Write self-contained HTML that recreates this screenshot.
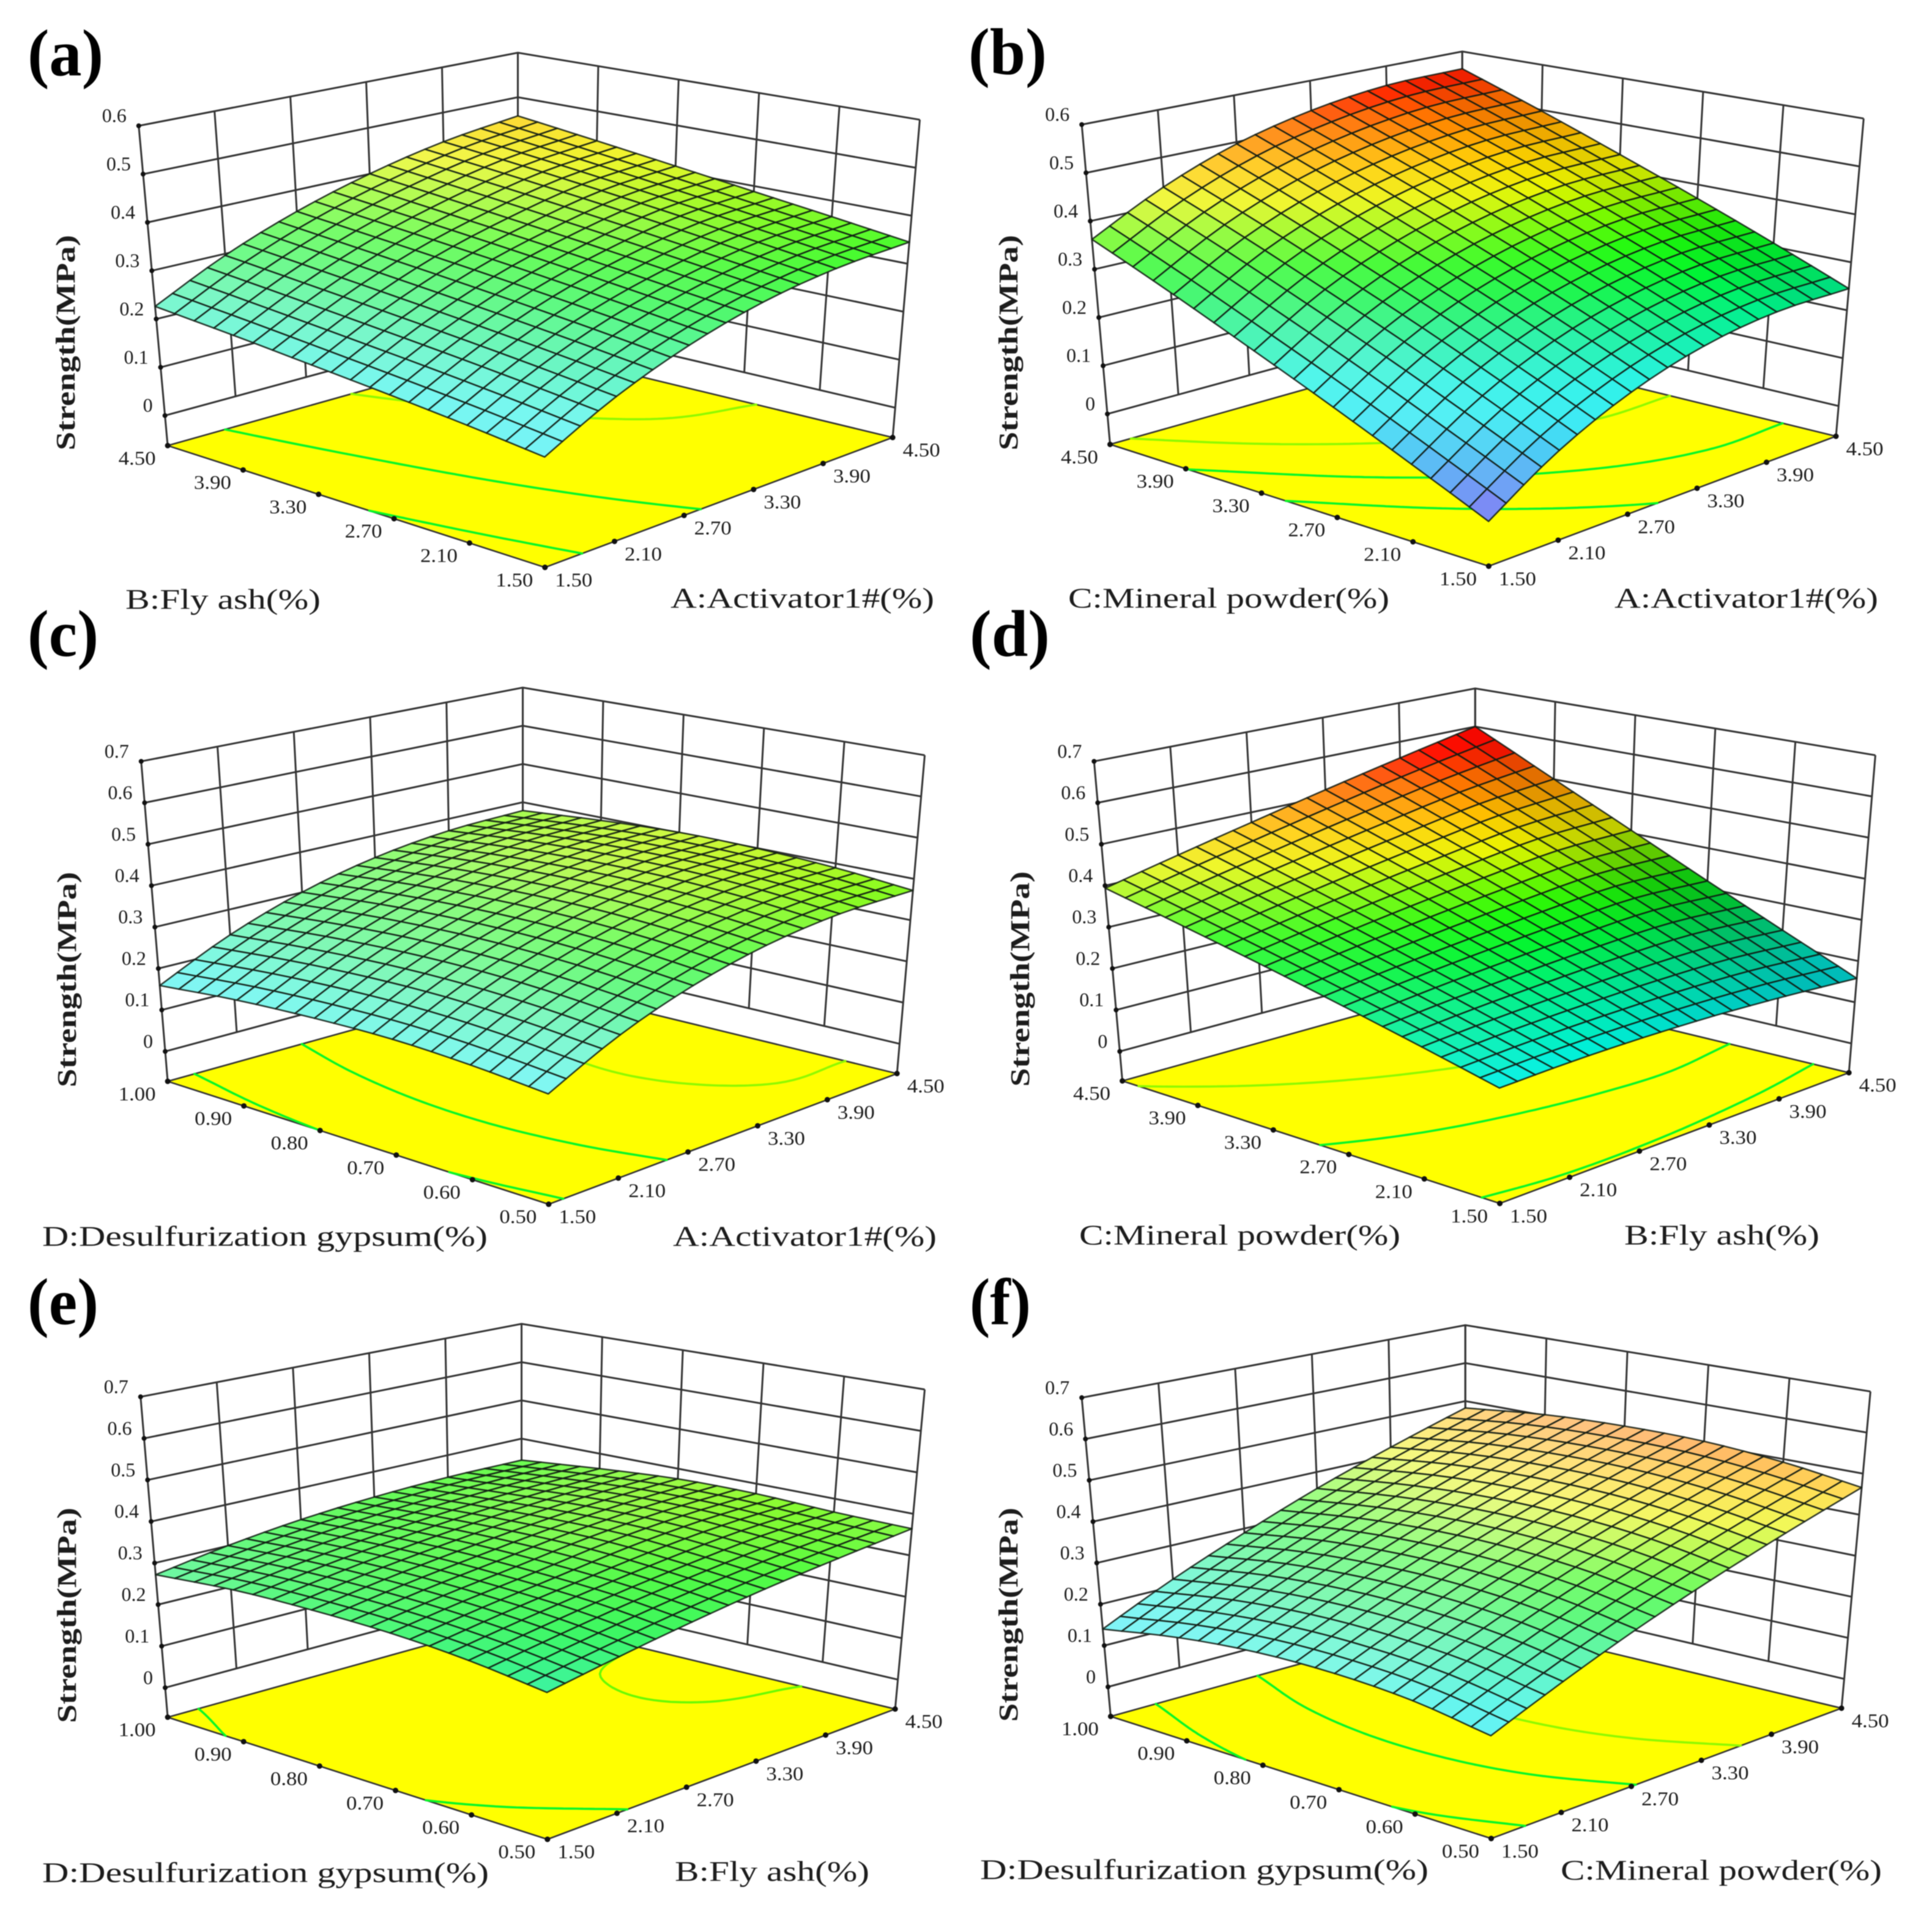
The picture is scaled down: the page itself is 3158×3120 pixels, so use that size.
<!DOCTYPE html>
<html lang="en">
<head>
<meta charset="utf-8">
<title>Response surfaces of strength vs. activator, fly ash, mineral powder and gypsum</title>
<style>
html,body{margin:0;padding:0;background:#fff;}
svg{display:block;filter:blur(0.7px);}
text{font-family:"Liberation Serif",serif;fill:#1c1c1c;}
.letter{font-size:108px;font-weight:bold;fill:#000;}
.ytitle{font-size:44px;font-weight:bold;text-anchor:middle;}
.xtitle{font-size:47px;}
</style>
</head>
<body>
<svg id="figure" xmlns="http://www.w3.org/2000/svg" width="3158" height="3120" viewBox="0 0 3158 3120">
<rect x="0" y="0" width="3158" height="3120" fill="#ffffff"/>

<g>
<g id="plot-a"></g>
<text class="letter" x="45" y="123" textLength="124" lengthAdjust="spacingAndGlyphs">(a)</text>
<text class="ytitle" transform="translate(122,560) rotate(-90)" textLength="352" lengthAdjust="spacingAndGlyphs">Strength(MPa)</text>
<text class="xtitle" x="205" y="995" textLength="319" lengthAdjust="spacingAndGlyphs">B:Fly ash(%)</text>
<text class="xtitle" x="1096" y="993" textLength="431" lengthAdjust="spacingAndGlyphs">A:Activator1#(%)</text>
</g>

<g>
<g id="plot-b"></g>
<text class="letter" x="1583" y="121" textLength="128" lengthAdjust="spacingAndGlyphs">(b)</text>
<text class="ytitle" transform="translate(1663,560) rotate(-90)" textLength="352" lengthAdjust="spacingAndGlyphs">Strength(MPa)</text>
<text class="xtitle" x="1746" y="993" textLength="525" lengthAdjust="spacingAndGlyphs">C:Mineral powder(%)</text>
<text class="xtitle" x="2639" y="993" textLength="431" lengthAdjust="spacingAndGlyphs">A:Activator1#(%)</text>
</g>

<g>
<g id="plot-c"></g>
<text class="letter" x="45" y="1072" textLength="116" lengthAdjust="spacingAndGlyphs">(c)</text>
<text class="ytitle" transform="translate(124,1601) rotate(-90)" textLength="352" lengthAdjust="spacingAndGlyphs">Strength(MPa)</text>
<text class="xtitle" x="69" y="2036" textLength="728" lengthAdjust="spacingAndGlyphs">D:Desulfurization gypsum(%)</text>
<text class="xtitle" x="1100" y="2036" textLength="431" lengthAdjust="spacingAndGlyphs">A:Activator1#(%)</text>
</g>

<g>
<g id="plot-d"></g>
<text class="letter" x="1585" y="1072" textLength="131" lengthAdjust="spacingAndGlyphs">(d)</text>
<text class="ytitle" transform="translate(1682,1600) rotate(-90)" textLength="352" lengthAdjust="spacingAndGlyphs">Strength(MPa)</text>
<text class="xtitle" x="1764" y="2034" textLength="525" lengthAdjust="spacingAndGlyphs">C:Mineral powder(%)</text>
<text class="xtitle" x="2655" y="2034" textLength="319" lengthAdjust="spacingAndGlyphs">B:Fly ash(%)</text>
</g>

<g>
<g id="plot-e"></g>
<text class="letter" x="45" y="2164" textLength="116" lengthAdjust="spacingAndGlyphs">(e)</text>
<text class="ytitle" transform="translate(124,2640) rotate(-90)" textLength="352" lengthAdjust="spacingAndGlyphs">Strength(MPa)</text>
<text class="xtitle" x="69" y="3076" textLength="730" lengthAdjust="spacingAndGlyphs">D:Desulfurization gypsum(%)</text>
<text class="xtitle" x="1103" y="3074" textLength="318" lengthAdjust="spacingAndGlyphs">B:Fly ash(%)</text>
</g>

<g>
<g id="plot-f"></g>
<text class="letter" x="1585" y="2164" textLength="100" lengthAdjust="spacingAndGlyphs">(f)</text>
<text class="ytitle" transform="translate(1663,2639) rotate(-90)" textLength="350" lengthAdjust="spacingAndGlyphs">Strength(MPa)</text>
<text class="xtitle" x="1602" y="3071" textLength="733" lengthAdjust="spacingAndGlyphs">D:Desulfurization gypsum(%)</text>
<text class="xtitle" x="2551" y="3072" textLength="525" lengthAdjust="spacingAndGlyphs">C:Mineral powder(%)</text>
</g>
</svg>

<script>
// ---- Tick labels ----
const percentTicks = ['1.50','2.10','2.70','3.30','3.90','4.50'];
const gypsumTicks = ['0.50','0.60','0.70','0.80','0.90','1.00'];
const strengthTicks06 = [0,0.1,0.2,0.3,0.4,0.5,0.6];
const strengthTicks07 = [0,0.1,0.2,0.3,0.4,0.5,0.6,0.7];

// Rows: left-axis tick (front to back). Columns: right-axis tick (front to back).
const surfaceA = [
 [.148,.219,.274,.314,.337,.345],
 [.166,.236,.292,.332,.358,.367],
 [.182,.252,.309,.350,.379,.389],
 [.197,.267,.325,.367,.399,.412],
 [.212,.282,.340,.384,.418,.435],
 [.226,.297,.355,.401,.436,.458]];
const surfaceB = [
 [.022,.111,.178,.223,.245,.245],
 [.087,.176,.242,.286,.308,.308],
 [.154,.242,.306,.348,.370,.371],
 [.222,.307,.369,.411,.433,.434],
 [.292,.373,.433,.473,.495,.498],
 [.362,.438,.497,.536,.558,.561]];
const surfaceC = [
 [.173,.252,.311,.351,.371,.372],
 [.187,.266,.326,.367,.388,.390],
 [.194,.273,.333,.375,.397,.400],
 [.190,.270,.331,.373,.396,.402],
 [.179,.258,.320,.363,.387,.393],
 [.159,.239,.301,.345,.370,.378]];
const surfaceD = [
 [.185,.190,.190,.185,.174,.158],
 [.227,.239,.247,.252,.251,.236],
 [.269,.288,.304,.318,.328,.319],
 [.311,.337,.362,.385,.405,.408],
 [.352,.386,.419,.451,.482,.501],
 [.394,.435,.476,.518,.559,.600]];
const surfaceE = [
 [.253,.281,.307,.330,.348,.364],
 [.276,.302,.326,.346,.362,.368],
 [.289,.314,.335,.358,.372,.376],
 [.292,.318,.339,.357,.370,.375],
 [.288,.314,.334,.349,.358,.362],
 [.272,.301,.323,.337,.344,.344]];
const surfaceF = [
 [.157,.225,.291,.352,.410,.466],
 [.185,.254,.320,.381,.438,.493],
 [.196,.266,.334,.396,.454,.509],
 [.193,.265,.333,.397,.456,.511],
 [.174,.249,.319,.384,.446,.503],
 [.140,.218,.290,.359,.422,.482]];

// ---- Contour levels printed on the floor of each plot ----
const levelsA = [.187,.285,.385];
const levelsB = [.20,.29,.385];
const levelsC = [.19,.295,.385];
const levelsD = [.195,.285,.385];
const levelsE = [.285,.37];
const levelsF = [.19,.295,.385];

// ---- Plot geometry (crop-space corners + crop-to-page mapping), not data ----
const panels = [
 {id:'a',ox:0,oy:0,sx:1.0077,sy:.6633,F:[884,1398],R:[1448,1078],B:[840,855],L:[272,1098],TL:[225,310],TB:[840,130],TR:[1492,295],y0:1024,grid:surfaceA,levels:levelsA,ticks:strengthTicks06,leftTicks:percentTicks,rightTicks:percentTicks},
 {id:'b',ox:1580,oy:0,sx:1.0064,sy:.6633,F:[848,1395],R:[1412,1075],B:[805,850],L:[233,1095],TL:[187,307],TB:[805,127],TR:[1457,292],y0:1020,grid:surfaceB,levels:levelsB,ticks:strengthTicks06,leftTicks:percentTicks,rightTicks:percentTicks},
 {id:'c',ox:0,oy:1020,sx:1.0077,sy:.6696,F:[890,1416],R:[1455,1097],B:[848,875],L:[272,1116],TL:[229,335],TB:[848,155],TR:[1500,320],y0:1043,grid:surfaceC,levels:levelsC,ticks:strengthTicks07,leftTicks:gypsumTicks,rightTicks:percentTicks},
 {id:'d',ox:1580,oy:1020,sx:1.0064,sy:.6696,F:[866,1414],R:[1433,1095],B:[826,875],L:[253,1115],TL:[207,335],TB:[826,157],TR:[1476,320],y0:1043,grid:surfaceD,levels:levelsD,ticks:strengthTicks07,leftTicks:percentTicks,rightTicks:percentTicks},
 {id:'e',ox:0,oy:2070,sx:1.0077,sy:.6696,F:[888,1398],R:[1452,1080],B:[846,860],L:[272,1100],TL:[228,318],TB:[846,140],TR:[1500,300],y0:1028,grid:surfaceE,levels:levelsE,ticks:strengthTicks07,leftTicks:gypsumTicks,rightTicks:percentTicks},
 {id:'f',ox:1580,oy:2070,sx:1.0064,sy:.6696,F:[852,1396],R:[1421,1078],B:[810,858],L:[234,1098],TL:[187,320],TB:[810,143],TR:[1468,305],y0:1026,grid:surfaceF,levels:levelsF,ticks:strengthTicks07,leftTicks:gypsumTicks,rightTicks:percentTicks}
];

const CELLS = 20;
const SVGNS = 'http://www.w3.org/2000/svg';

function make(tag, parent){
  const el = document.createElementNS(SVGNS, tag);
  parent.appendChild(el);
  return el;
}

function bil(u,v,f,r,b,l){
  return (1-u)*(1-v)*f + u*(1-v)*r + u*v*b + (1-u)*v*l;
}

function catmull(a,b,c,d,t){
  return 0.5*((2*b)+(-a+c)*t+(2*a-5*b+4*c-d)*t*t+(-a+3*b-3*c+d)*t*t*t);
}

function pick(arr,i){
  const n = arr.length;
  if(i<0) return 2*arr[0]-arr[1];
  if(i>=n) return 2*arr[n-1]-arr[n-2];
  return arr[i];
}

// Smooth display resampling of the read values onto the finer drawn mesh
function surfaceAt(grid,u,v){
  const nu = grid[0].length-1, nv = grid.length-1;
  const gu = Math.min(u*nu,nu-1e-9), gv = Math.min(v*nv,nv-1e-9);
  const iu = Math.floor(gu), iv = Math.floor(gv);
  const col = [];
  for(let k=-1;k<=2;k++){
    let row;
    if(iv+k<0 || iv+k>nv){
      const r0 = iv+k<0 ? grid[0] : grid[nv];
      const r1 = iv+k<0 ? grid[1] : grid[nv-1];
      row = r0.map((x,i)=>2*x-r1[i]);
    } else {
      row = grid[iv+k];
    }
    col.push(catmull(pick(row,iu-1),pick(row,iu),pick(row,iu+1),pick(row,iu+2),gu-iu));
  }
  return catmull(col[0],col[1],col[2],col[3],gv-iv);
}

const colorStops = [
 [.00,80,40,240],[.05,50,90,240],[.10,0,170,240],[.15,0,232,240],[.19,0,240,225],
 [.25,0,240,140],[.30,0,245,50],[.34,30,250,10],[.38,130,250,0],[.42,235,245,0],
 [.46,255,205,0],[.52,255,110,0],[.56,255,20,0],[.60,255,0,0]];

function colorFor(z,shade){
  let c = colorStops[colorStops.length-1].slice(1);
  if(z<=colorStops[0][0]) c = colorStops[0].slice(1);
  else for(let i=0;i<colorStops.length-1;i++){
    const a = colorStops[i], b = colorStops[i+1];
    if(z>=a[0] && z<=b[0]){
      const t = (z-a[0])/(b[0]-a[0]);
      c = [a[1]+(b[1]-a[1])*t,a[2]+(b[2]-a[2])*t,a[3]+(b[3]-a[3])*t];
      break;
    }
  }
  const w = Math.max(-0.35,Math.min(0.5,shade));
  c = c.map(x=> w>0 ? x+(255-x)*w : x*(1+w));
  return 'rgb('+c.map(x=>Math.round(x)).join(',')+')';
}

function drawPanel(p){
  const root = document.getElementById('plot-'+p.id);
  const PX = x => p.ox + x*p.sx;
  const PY = y => p.oy + y*p.sy;
  const zTop = p.ticks[p.ticks.length-1];
  const zFloor = -(p.L[1]-p.y0)/(p.y0-p.TL[1])*zTop;
  const hL = p.L[1]-p.TL[1], hR = p.R[1]-p.TR[1], hB = p.B[1]-p.TB[1];
  const hF = 1/(1/hL+1/hR-1/hB);
  const dxL = p.TL[0]-p.L[0], dxR = p.TR[0]-p.R[0], dxB = p.TB[0]-p.B[0];

  function project(u,v,z){
    const t = (z-zFloor)/(zTop-zFloor);
    const fx = bil(u,v,p.F[0],p.R[0],p.B[0],p.L[0]);
    const fy = bil(u,v,p.F[1],p.R[1],p.B[1],p.L[1]);
    const inv = bil(u,v,1/hF,1/hR,1/hB,1/hL);
    const dx = bil(u,v,-2,dxR,dxB,dxL);
    return [PX(fx+dx*t),PY(fy-t/inv)];
  }
  const pts = list => list.map(q=>q[0].toFixed(1)+','+q[1].toFixed(1)).join(' ');

  // Walls
  const walls = make('g',root);
  
  
  walls.setAttribute('fill','none');
  walls.setAttribute('stroke','#333333');
  walls.setAttribute('stroke-width','3');
  p.ticks.forEach(z=>{
    const line = make('polyline',walls);
    
    
    line.setAttribute('points',pts([project(0,1,z),project(1,1,z),project(1,0,z)]));
  });
  for(let i=0;i<p.rightTicks.length;i++){
    const f = i/(p.rightTicks.length-1);
    const a = make('line',walls);
    
    
    const a0 = (i===0) ? project(f,1,zFloor) : project(f,1,0), a1 = project(f,1,zTop);
    a.setAttribute('x1',a0[0]);a.setAttribute('y1',a0[1]);a.setAttribute('x2',a1[0]);a.setAttribute('y2',a1[1]);
    const b = make('line',walls);
    
    
    const b0 = (i===0) ? project(1,f,zFloor) : project(1,f,0), b1 = project(1,f,zTop);
    b.setAttribute('x1',b0[0]);b.setAttribute('y1',b0[1]);b.setAttribute('x2',b1[0]);b.setAttribute('y2',b1[1]);
  }

  // Floor
  const floor = make('polygon',root);
  
  
  floor.setAttribute('points',pts([p.F,p.R,p.B,p.L].map(q=>[PX(q[0]),PY(q[1])])));
  floor.setAttribute('fill','#ffff00');
  floor.setAttribute('stroke','#333333');
  floor.setAttribute('stroke-width','2.6');
  floor.setAttribute('stroke-linejoin','round');

  // Contours on the floor, traced from the surface values
  const floorPt = (u,v) => [PX(bil(u,v,p.F[0],p.R[0],p.B[0],p.L[0])),PY(bil(u,v,p.F[1],p.R[1],p.B[1],p.L[1]))];
  const N = 60;
  const field = [];
  for(let j=0;j<=N;j++){
    const row = [];
    for(let i=0;i<=N;i++) row.push(surfaceAt(p.grid,i/N,j/N));
    field.push(row);
  }
  p.levels.forEach(level=>{
    let d = '';
    const above = x => x>=level;
    for(let j=0;j<N;j++){
      for(let i=0;i<N;i++){
        const a = field[j][i], b = field[j][i+1], c = field[j+1][i+1], e = field[j+1][i];
        const cross = [];
        if(above(a)!==above(b)) cross.push([(i+(level-a)/(b-a))/N,j/N]);
        if(above(b)!==above(c)) cross.push([(i+1)/N,(j+(level-b)/(c-b))/N]);
        if(above(e)!==above(c)) cross.push([(i+(level-e)/(c-e))/N,(j+1)/N]);
        if(above(a)!==above(e)) cross.push([i/N,(j+(level-a)/(e-a))/N]);
        if(cross.length>=2){
          const s = floorPt(cross[0][0],cross[0][1]), t = floorPt(cross[1][0],cross[1][1]);
          d += 'M'+s[0].toFixed(1)+' '+s[1].toFixed(1)+'L'+t[0].toFixed(1)+' '+t[1].toFixed(1);
        }
      }
    }
    const path = make('path',root);
    
    
    path.setAttribute('d',d);
    path.setAttribute('fill','none');
    path.setAttribute('stroke',colorFor(Math.max(level,.31),0));
    path.setAttribute('stroke-width','3.6');
    path.setAttribute('stroke-linecap','round');
  });

  // Surface, painted back to front
  const surf = make('g',root);
  
  
  surf.setAttribute('stroke','#0f1a12');
  surf.setAttribute('stroke-opacity','0.86');
  surf.setAttribute('stroke-width','2.5');
  surf.setAttribute('stroke-linejoin','round');
  for(let j=CELLS-1;j>=0;j--){
    for(let i=CELLS-1;i>=0;i--){
      const u0=i/CELLS,u1=(i+1)/CELLS,v0=j/CELLS,v1=(j+1)/CELLS;
      const z00=surfaceAt(p.grid,u0,v0),z10=surfaceAt(p.grid,u1,v0),z11=surfaceAt(p.grid,u1,v1),z01=surfaceAt(p.grid,u0,v1);
      const zm=(z00+z10+z11+z01)/4;
      const dzdu=((z10+z11)-(z00+z01))/2*CELLS;
      const dzdv=((z01+z11)-(z00+z10))/2*CELLS;
      const cell = make('polygon',surf);
      
      
      cell.setAttribute('points',pts([project(u0,v0,z00),project(u1,v0,z10),project(u1,v1,z11),project(u0,v1,z01)]));
      cell.setAttribute('fill',colorFor(zm,0.22+0.9*dzdu-0.9*dzdv));
    }
  }

  // Strength axis ticks and labels
  p.ticks.forEach(z=>{
    const q = project(0,1,z);
    const dot = make('circle',root);
    
    
    dot.setAttribute('cx',q[0]);dot.setAttribute('cy',q[1]);dot.setAttribute('r','4');
    dot.setAttribute('fill','#111');
    const label = make('text',root);
    
    
    label.setAttribute('x',q[0]-20);
    label.setAttribute('y',q[1]-6);
    label.setAttribute('text-anchor','end');
    label.setAttribute('font-size','32');
    label.textContent = String(z);
  });

  // Floor axis ticks and labels
  p.leftTicks.forEach((txt,i)=>{
    const f = i/(p.leftTicks.length-1);
    const q = floorPt(0,f);
    const dot = make('circle',root);
    
    
    dot.setAttribute('cx',q[0]);dot.setAttribute('cy',q[1]);dot.setAttribute('r','4.5');
    dot.setAttribute('fill','#111');
    const label = make('text',root);
    
    
    label.setAttribute('x',q[0]-50);
    label.setAttribute('y',q[1]+31);
    label.setAttribute('text-anchor','middle');
    label.setAttribute('font-size','32');
    label.setAttribute('textLength','61');
    label.setAttribute('lengthAdjust','spacingAndGlyphs');
    label.textContent = txt;
  });
  p.rightTicks.forEach((txt,i)=>{
    const f = i/(p.rightTicks.length-1);
    const q = floorPt(f,0);
    const dot = make('circle',root);
    
    
    dot.setAttribute('cx',q[0]);dot.setAttribute('cy',q[1]);dot.setAttribute('r','4.5');
    dot.setAttribute('fill','#111');
    const label = make('text',root);
    
    
    label.setAttribute('x',q[0]+47);
    label.setAttribute('y',q[1]+31);
    label.setAttribute('text-anchor','middle');
    label.setAttribute('font-size','32');
    label.setAttribute('textLength','61');
    label.setAttribute('lengthAdjust','spacingAndGlyphs');
    label.textContent = txt;
  });
}

panels.forEach(drawPanel);
</script>
</body>
</html>
